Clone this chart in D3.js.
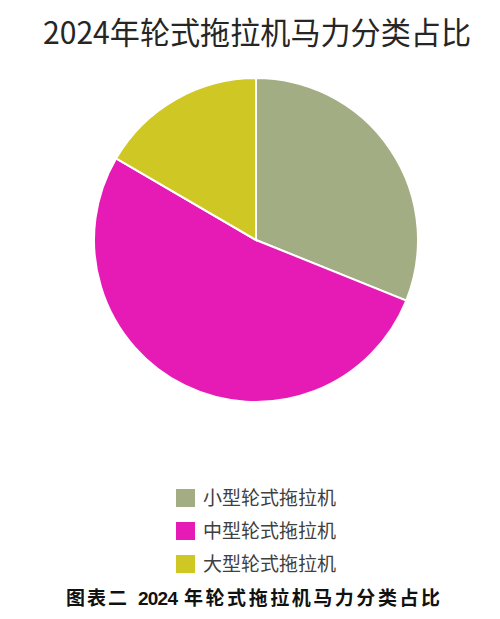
<!DOCTYPE html>
<html>
<head>
<meta charset="utf-8">
<script src="https://cdn.jsdelivr.net/npm/d3@7"></script>
<style>
  body { margin: 0; background: #fff; }
  svg { display: block; }
</style>
</head>
<body>
<svg id="chart" width="500" height="619"></svg>
<script>
// data (share of wheeled tractors by power class, %)
const categories = ["小型轮式拖拉机", "中型轮式拖拉机", "大型轮式拖拉机"];
const shares = [31.1, 52.3, 16.6];
const colors = ["#a3ad83", "#e61ab4", "#cfc824"];

const titleText = "2024年轮式拖拉机马力分类占比";
const captionParts = ["图表二", "2024", "年轮式拖拉机马力分类占比"];

const svg = d3.select("#chart");
const cjk = "'Noto Sans CJK SC', 'Noto Sans', sans-serif";

// title on top, stretched a little like the original
svg.append("text")
  .attr("x", 43)
  .attr("y", 44)
  .attr("textLength", 428)
  .attr("lengthAdjust", "spacingAndGlyphs")
  .attr("font-family", cjk)
  .attr("font-size", 31)
  .attr("fill", "#262626")
  .text(titleText);

// pie
const cx = 256, cy = 240, r = 162;
const color = d3.scaleOrdinal().domain(categories).range(colors);

const pie = d3.pie().sort(null).value(d => d.value);
const arc = d3.arc().innerRadius(0).outerRadius(r);

const slices = categories.map((c, i) => ({ name: c, value: shares[i] }));

svg.append("g")
  .attr("transform", `translate(${cx},${cy})`)
  .selectAll("path")
  .data(pie(slices))
  .join("path")
    .attr("d", arc)
    .attr("fill", d => color(d.data.name))
    .attr("stroke", "#fff")
    .attr("stroke-width", 2);

// legend
const legend = svg.append("g").attr("transform", "translate(176,489)");
const item = legend.selectAll("g")
  .data(categories)
  .join("g")
    .attr("transform", (d, i) => `translate(0,${i * 33})`);

item.append("rect")
  .attr("width", 19)
  .attr("height", 18)
  .attr("fill", d => color(d));

item.append("text")
  .attr("x", 27)
  .attr("y", 9)
  .attr("dy", "0.36em")
  .attr("textLength", 133)
  .attr("font-family", cjk)
  .attr("font-size", 19)
  .attr("fill", "#404040")
  .text(d => d);

// caption under the chart
const cap = svg.append("text")
  .attr("y", 605)
  .attr("font-family", cjk)
  .attr("font-weight", "bold")
  .attr("font-size", 19)
  .attr("fill", "#111");

cap.append("tspan").attr("x", 66).attr("textLength", 61).text(captionParts[0]);
cap.append("tspan").attr("x", 138).attr("textLength", 40)
  .attr("font-family", "'Liberation Sans', 'Noto Sans', sans-serif")
  .text(captionParts[1]);
cap.append("tspan").attr("x", 184).attr("textLength", 256).text(captionParts[2]);
</script>
</body>
</html>
